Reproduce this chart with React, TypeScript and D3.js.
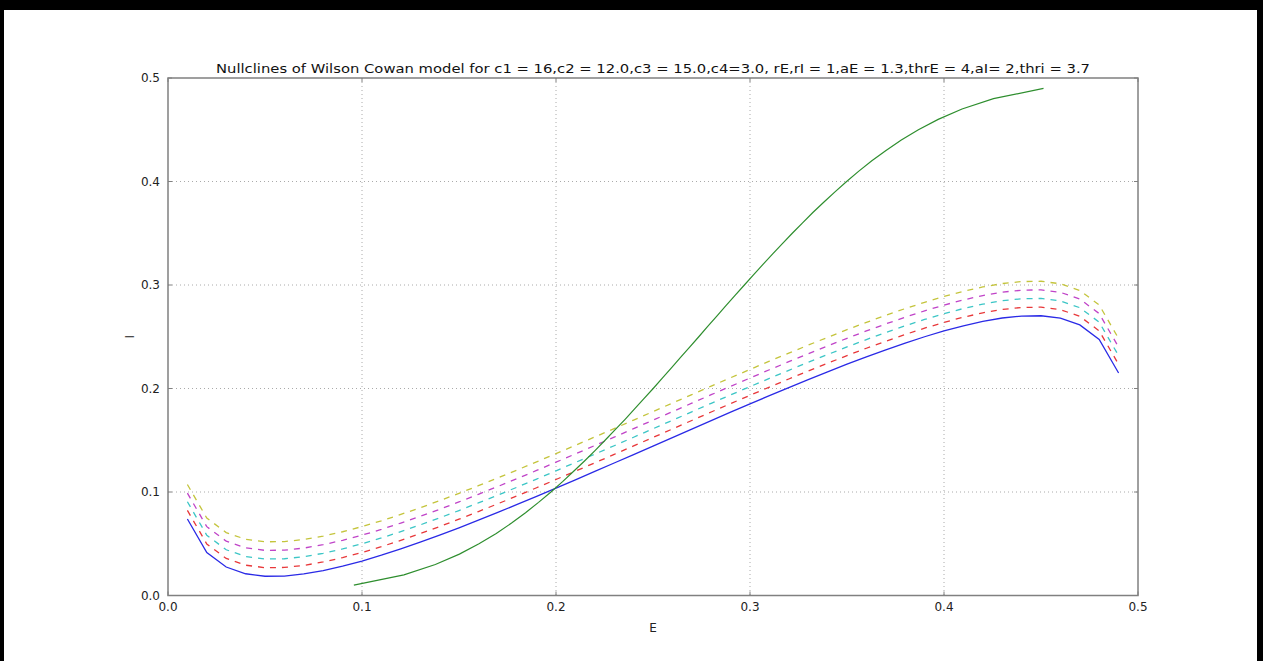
import React from 'react';
import * as d3 from 'd3';

// E grid for the E-nullclines, I grid for the I-nullcline (same 0.01 steps)
const eGrid = [
	0.01, 0.02, 0.03, 0.04, 0.05, 0.06, 0.07, 0.08, 0.09, 0.10,
	0.11, 0.12, 0.13, 0.14, 0.15, 0.16, 0.17, 0.18, 0.19, 0.20,
	0.21, 0.22, 0.23, 0.24, 0.25, 0.26, 0.27, 0.28, 0.29, 0.30,
	0.31, 0.32, 0.33, 0.34, 0.35, 0.36, 0.37, 0.38, 0.39, 0.40,
	0.41, 0.42, 0.43, 0.44, 0.45, 0.46, 0.47, 0.48, 0.49,
];
const iGrid = eGrid;

const blueI = [
	0.0739, 0.0415, 0.0275, 0.0210, 0.0186, 0.0188, 0.0208, 0.0241, 0.0283, 0.0333,
	0.0389, 0.0450, 0.0515, 0.0583, 0.0654, 0.0728, 0.0803, 0.0880, 0.0958, 0.1038,
	0.1118, 0.1199, 0.1280, 0.1362, 0.1444, 0.1526, 0.1608, 0.1690, 0.1771, 0.1851,
	0.1931, 0.2009, 0.2086, 0.2161, 0.2235, 0.2306, 0.2374, 0.2439, 0.2500, 0.2556,
	0.2606, 0.2648, 0.2681, 0.2700, 0.2703, 0.2679, 0.2614, 0.2474, 0.2150,
];
const redI = [
	0.0822, 0.0498, 0.0358, 0.0293, 0.0269, 0.0271, 0.0291, 0.0324, 0.0366, 0.0416,
	0.0472, 0.0533, 0.0598, 0.0666, 0.0737, 0.0811, 0.0886, 0.0963, 0.1041, 0.1121,
	0.1201, 0.1282, 0.1363, 0.1445, 0.1527, 0.1609, 0.1691, 0.1773, 0.1854, 0.1934,
	0.2014, 0.2092, 0.2169, 0.2244, 0.2318, 0.2389, 0.2457, 0.2522, 0.2583, 0.2639,
	0.2689, 0.2731, 0.2764, 0.2783, 0.2786, 0.2762, 0.2697, 0.2557, 0.2233,
];
const cyanI = [
	0.0906, 0.0582, 0.0442, 0.0377, 0.0353, 0.0355, 0.0375, 0.0408, 0.0450, 0.0500,
	0.0556, 0.0617, 0.0682, 0.0750, 0.0821, 0.0895, 0.0970, 0.1047, 0.1125, 0.1205,
	0.1285, 0.1366, 0.1447, 0.1529, 0.1611, 0.1693, 0.1775, 0.1857, 0.1938, 0.2018,
	0.2098, 0.2176, 0.2253, 0.2328, 0.2402, 0.2473, 0.2541, 0.2606, 0.2667, 0.2723,
	0.2773, 0.2815, 0.2848, 0.2867, 0.2870, 0.2846, 0.2781, 0.2641, 0.2317,
];
const magentaI = [
	0.0989, 0.0665, 0.0525, 0.0460, 0.0436, 0.0438, 0.0458, 0.0491, 0.0533, 0.0583,
	0.0639, 0.0700, 0.0765, 0.0833, 0.0904, 0.0978, 0.1053, 0.1130, 0.1208, 0.1288,
	0.1368, 0.1449, 0.1530, 0.1612, 0.1694, 0.1776, 0.1858, 0.1940, 0.2021, 0.2101,
	0.2181, 0.2259, 0.2336, 0.2411, 0.2485, 0.2556, 0.2624, 0.2689, 0.2750, 0.2806,
	0.2856, 0.2898, 0.2931, 0.2950, 0.2953, 0.2929, 0.2864, 0.2724, 0.2400,
];
const yellowI = [
	0.1072, 0.0748, 0.0608, 0.0543, 0.0519, 0.0521, 0.0541, 0.0574, 0.0616, 0.0666,
	0.0722, 0.0783, 0.0848, 0.0916, 0.0987, 0.1061, 0.1136, 0.1213, 0.1291, 0.1371,
	0.1451, 0.1532, 0.1613, 0.1695, 0.1777, 0.1859, 0.1941, 0.2023, 0.2104, 0.2184,
	0.2264, 0.2342, 0.2419, 0.2494, 0.2568, 0.2639, 0.2707, 0.2772, 0.2833, 0.2889,
	0.2939, 0.2981, 0.3014, 0.3033, 0.3036, 0.3012, 0.2947, 0.2807, 0.2483,
];
const greenE = [
	0.0958, 0.1216, 0.1378, 0.1502, 0.1603, 0.1692, 0.1771, 0.1843, 0.1910, 0.1974,
	0.2034, 0.2091, 0.2147, 0.2201, 0.2253, 0.2304, 0.2355, 0.2404, 0.2452, 0.2501,
	0.2548, 0.2595, 0.2642, 0.2689, 0.2736, 0.2782, 0.2829, 0.2876, 0.2923, 0.2971,
	0.3019, 0.3067, 0.3117, 0.3167, 0.3218, 0.3271, 0.3324, 0.3380, 0.3438, 0.3498,
	0.3561, 0.3628, 0.3701, 0.3780, 0.3868, 0.3970, 0.4093, 0.4255, 0.4513,
];

const xTicks = [0, 0.1, 0.2, 0.3, 0.4, 0.5];
const yTicks = [0, 0.1, 0.2, 0.3, 0.4, 0.5];

const title = 'Nullclines of Wilson Cowan model for c1 = 16,c2 = 12.0,c3 = 15.0,c4=3.0, rE,rI = 1,aE = 1.3,thrE = 4,aI= 2,thri = 3.7';

const W = 1263;
const H = 661;
const left = 168;
const right = 1138;
const top = 78;
const bottom = 595.5;
const font = 'DejaVu Sans, sans-serif';

const dashed = [
	{ name: 'red', values: redI, color: '#e8383a' },
	{ name: 'cyan', values: cyanI, color: '#3cc6c6' },
	{ name: 'magenta', values: magentaI, color: '#c044c8' },
	{ name: 'yellow', values: yellowI, color: '#c4c43c' },
];

const App = () => {
	const x = d3.scaleLinear().domain([0, 0.5])
		.range([left, right]);
	const y = d3.scaleLinear().domain([0, 0.5])
		.range([bottom, top]);
	const line = d3.line<[number, number]>()
		.x((d) => x(d[0]))
		.y((d) => y(d[1]));
	const pairs = (vals: number[]) => eGrid.map((e, i) => [e, vals[i]] as [number, number]);
	const greenPts = iGrid.map((iv, k) => [greenE[k], iv] as [number, number]);
	const fmt = d3.format('.1f');

	return (
		<svg width={ W } height={ H } style={{ position: 'absolute', left: 0, top: 0 }}>
			<rect x={ 0 } y={ 0 } width={ W } height={ H } fill='#000'/>
			<rect x={ 4 } y={ 10 } width={ W - 10 } height={ H - 10 } fill='#fff'/>

			{/* grid */}
			{ xTicks.slice(1, -1).map((t) => (
				<line key={ `gx${ t }` } x1={ x(t) } x2={ x(t) } y1={ top } y2={ bottom }
					stroke='#aaa' strokeWidth={ 1 } strokeDasharray='1,3'/>
			)) }
			{ yTicks.slice(1, -1).map((t) => (
				<line key={ `gy${ t }` } x1={ left } x2={ right } y1={ y(t) } y2={ y(t) }
					stroke='#aaa' strokeWidth={ 1 } strokeDasharray='1,3'/>
			)) }

			{/* curves */}
			<path d={ line(pairs(blueI)) ?? '' } fill='none' stroke='#2a2ae6' strokeWidth={ 1.3 }/>
			{ dashed.map((s) => (
				<path key={ s.name } d={ line(pairs(s.values)) ?? '' } fill='none'
					stroke={ s.color } strokeWidth={ 1.3 } strokeDasharray='6,6'/>
			)) }
			<path d={ line(greenPts) ?? '' } fill='none' stroke='#2e8e2e' strokeWidth={ 1.2 }/>

			{/* frame and ticks */}
			<rect x={ left } y={ top } width={ right - left } height={ bottom - top }
				fill='none' stroke='#808080' strokeWidth={ 1.5 }/>
			{ xTicks.map((t) => (
				<g key={ `tx${ t }` }>
					<line x1={ x(t) } x2={ x(t) } y1={ bottom } y2={ bottom - 4 } stroke='#808080'/>
					<line x1={ x(t) } x2={ x(t) } y1={ top } y2={ top + 4 } stroke='#808080'/>
					<text x={ x(t) } y={ bottom + 15 } textAnchor='middle' fontFamily={ font }
						fontSize={ 12 } fill='#222'>{ fmt(t) }</text>
				</g>
			)) }
			{ yTicks.map((t) => (
				<g key={ `ty${ t }` }>
					<line x1={ left } x2={ left + 4 } y1={ y(t) } y2={ y(t) } stroke='#808080'/>
					<line x1={ right } x2={ right - 4 } y1={ y(t) } y2={ y(t) } stroke='#808080'/>
					<text x={ left - 8 } y={ y(t) + 4 } textAnchor='end' fontFamily={ font }
						fontSize={ 12 } fill='#222'>{ fmt(t) }</text>
				</g>
			)) }

			<text x={ (left + right) / 2 } y={ 73 } textAnchor='middle' fontFamily={ font }
				fontSize={ 13 } fill='#111' textLength={ 874 } lengthAdjust='spacingAndGlyphs'>{ title }</text>
			<text x={ (left + right) / 2 } y={ 632 } textAnchor='middle' fontFamily={ font }
				fontSize={ 12 } fill='#222'>E</text>
			<text transform={ `translate(134, ${ (top + bottom) / 2 }) rotate(-90)` } textAnchor='middle'
				fontFamily={ font } fontSize={ 12 } fill='#222'>I</text>
		</svg>
	);
};

export default App;
